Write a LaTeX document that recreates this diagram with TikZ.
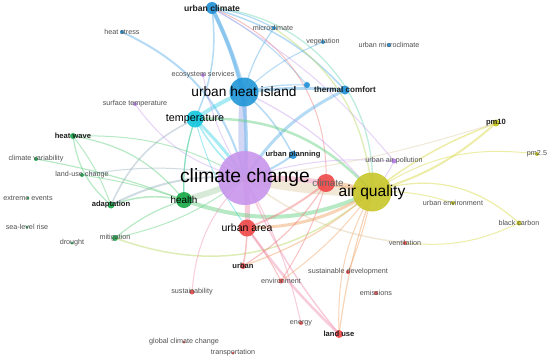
\documentclass[tikz,border=0pt]{standalone}
\usepackage{fontspec}
\setmainfont{Liberation Sans}
\pgfdeclarelayer{bg}
\pgfsetlayers{bg,main}
\definecolor{cB}{HTML}{1E90D6}
\definecolor{cUHI}{HTML}{2196D8}
\definecolor{cP}{HTML}{B47EE6}
\definecolor{cCC}{HTML}{C895EC}
\definecolor{cC}{HTML}{12C6DE}
\definecolor{cG}{HTML}{18A848}
\definecolor{cR}{HTML}{EE4848}
\definecolor{cY}{HTML}{C4C418}
\definecolor{cAQ}{HTML}{C8C62A}
\definecolor{eB}{HTML}{5AAEE8}
\definecolor{eBP}{HTML}{9AA8E8}
\definecolor{eP}{HTML}{C8A0F0}
\definecolor{eC}{HTML}{40D4E8}
\definecolor{eTe}{HTML}{70D8B8}
\definecolor{eG}{HTML}{60D080}
\definecolor{eGP}{HTML}{A8D0A8}
\definecolor{eGray}{HTML}{98B0C0}
\definecolor{eR}{HTML}{F07878}
\definecolor{ePk}{HTML}{F090B0}
\definecolor{eY}{HTML}{D8D840}
\definecolor{eO}{HTML}{F0A060}
\definecolor{eT}{HTML}{E0CCA8}
\definecolor{eYG}{HTML}{B8D860}
\definecolor{labgray}{HTML}{505050}
\tikzset{
  dot/.style={circle, inner sep=0pt, draw=none, fill opacity=0.9},
  lab/.style={font=\fontsize{7.2}{7.2}\selectfont, text=labgray, inner sep=0pt},
  blab/.style={font=\fontsize{7.6}{7.6}\selectfont\bfseries, text=black!88, inner sep=0pt},
  edge/.style={draw opacity=0.45, line cap=round},
}
\begin{document}
\begin{tikzpicture}[x=1pt,y=1pt]
\begin{pgfonlayer}{bg}
\fill[white] (0,0) rectangle (550,-360);
\end{pgfonlayer}
\useasboundingbox (0,0) rectangle (550,-360);
% nodes
\node[dot, fill=cB, minimum size=12pt] (uc) at (212,-8) {};
\node[dot, fill=cB, minimum size=4pt] (mc) at (274,-28) {};
\node[dot, fill=cB, minimum size=4pt] (hs) at (122,-32) {};
\node[dot, fill=cB, minimum size=4pt] (veg) at (323,-42) {};
\node[dot, fill=cB, minimum size=4pt] (umc) at (389,-45) {};
\node[dot, fill=cP, minimum size=4pt] (es) at (203,-75) {};
\node[dot, fill=cUHI, minimum size=29pt] (uhi) at (244,-92) {};
\node[dot, fill=cB, minimum size=6pt] (sn) at (307,-85) {};
\node[dot, fill=cB, minimum size=9pt] (tc) at (345,-90) {};
\node[dot, fill=cP, minimum size=4pt] (st) at (135,-104) {};
\node[dot, fill=cC, minimum size=17pt] (temp) at (195,-119) {};
\node[dot, fill=cG, minimum size=6pt] (hw) at (73,-136) {};
\node[dot, fill=cB, minimum size=8pt] (up) at (293,-155) {};
\node[dot, fill=cP, minimum size=5pt] (uap) at (394,-161) {};
\node[dot, fill=cY, minimum size=7pt] (pmten) at (496,-123) {};
\node[dot, fill=cY, minimum size=4pt] (pmtwo) at (537,-154) {};
\node[dot, fill=cG, minimum size=4pt] (cv) at (36,-159) {};
\node[dot, fill=cG, minimum size=4pt] (luc) at (82,-175) {};
\node[dot, fill=cCC, minimum size=54pt] (cc) at (245,-178) {};
\node[dot, fill=cR, minimum size=18pt] (cl) at (326,-183) {};
\node[dot, fill=cAQ, minimum size=39pt] (aq) at (372,-192) {};
\node[dot, fill=cG, minimum size=3pt] (ee) at (28,-198) {};
\node[dot, fill=cG, minimum size=7pt] (ad) at (111,-205) {};
\node[dot, fill=cG, minimum size=16pt] (he) at (184,-200) {};
\node[dot, fill=cY, minimum size=4pt] (ue) at (453,-203) {};
\node[dot, fill=cG, minimum size=3pt] (slr) at (27,-227) {};
\node[dot, fill=cR, minimum size=17pt] (ua) at (247,-228) {};
\node[dot, fill=cY, minimum size=5pt] (bc) at (519,-223) {};
\node[dot, fill=cG, minimum size=6pt] (mit) at (115,-238) {};
\node[dot, fill=cG, minimum size=3pt] (dr) at (72,-243) {};
\node[dot, fill=cR, minimum size=4pt] (ven) at (405,-243) {};
\node[dot, fill=cR, minimum size=6pt] (ur) at (243,-266) {};
\node[dot, fill=cR, minimum size=4pt] (sd) at (348,-272) {};
\node[dot, fill=cR, minimum size=5pt] (env) at (281,-281) {};
\node[dot, fill=cR, minimum size=4pt] (em) at (376,-293) {};
\node[dot, fill=cR, minimum size=5pt] (sus) at (192,-292) {};
\node[dot, fill=cR, minimum size=4pt] (en) at (301,-323) {};
\node[dot, fill=cR, minimum size=8pt] (lu) at (339,-334) {};
\node[dot, fill=cR, minimum size=3pt] (gcc) at (184,-342) {};
\node[dot, fill=cR, minimum size=3pt] (tr) at (233,-353) {};
% edges
\begin{pgfonlayer}{bg}
% blue / cyan
\draw[edge, eBP, line width=8pt] (uhi.center) to[bend right=5] (cc.center);
\draw[edge, eB, line width=4pt] (uc.center) to[bend left=5] (uhi.center);
\draw[edge, eB, line width=3.5pt] (uc.center) to[bend left=15] (cc.center);
\draw[edge, eB, line width=1.5pt] (uc.center) to[bend left=15] (temp.center);
\draw[edge, eB, line width=1.2pt] (uc.center) to[bend left=10] (mc.center);
\draw[edge, eB, line width=1.5pt] (uc.center) to[bend left=15] (tc.center);
\draw[edge, eB, line width=1pt] (uc.center) to[bend left=10] (sn.center);
\draw[edge, eTe, line width=1.3pt] (uc.center) to[bend left=45] (aq.center);
\draw[edge, eR, line width=1pt] (uc.center) to[bend left=35] (cl.center);
\draw[edge, eP, line width=1pt] (uc.center) to[bend left=10] (uap.center);
\draw[edge, eB, line width=1.2pt] (mc.center) to[bend right=10] (uhi.center);
\draw[edge, eYG, line width=1.3pt] (mc.center) to[bend left=25] (aq.center);
\draw[edge, eB, line width=1pt] (veg.center) to[bend right=10] (uhi.center);
\draw[edge, eB, line width=2pt] (hs.center) to[bend left=25] (cc.center);
\draw[edge, eB, line width=3pt] (uhi.center) to[bend left=5] (tc.center);
\draw[edge, eB, line width=3pt] (cc.center) to[bend left=15] (tc.center);
\draw[edge, eB, line width=1.2pt] (uhi.center) to[bend left=8] (sn.center);
\draw[edge, eC, line width=4pt] (uhi.center) to[bend right=5] (temp.center);
\draw[edge, eB, line width=1.5pt] (uhi.center) to[bend left=10] (up.center);
\draw[edge, eB, line width=2pt] (up.center) to[bend left=10] (cc.center);
\draw[edge, eP, line width=1.2pt] (uhi.center) to[bend left=12] (aq.center);
\draw[edge, eC, line width=3pt] (temp.center) to[bend left=5] (cc.center);
\draw[edge, eC, line width=1.5pt] (temp.center) to[bend right=10] (cc.center);
\draw[edge, eC, line width=1.2pt] (temp.center) to[bend right=10] (he.center);
\draw[edge, eG, line width=2.5pt] (temp.center) to[bend left=25] (aq.center);
\draw[edge, eC, line width=1pt] (temp.center) to[bend right=10] (ua.center);
% centre
\draw[edge, eT, line width=10pt] (cc.center) to[bend right=5] (aq.center);
\draw[edge, ePk, line width=5pt] (cc.center) to[bend left=5] (cl.center);
\draw[edge, eO, line width=5pt] (cl.center) to[bend left=5] (aq.center);
\draw[edge, eGP, line width=6pt] (cc.center) to[bend left=5] (he.center);
\draw[edge, ePk, line width=5pt] (cc.center) to[bend left=5] (ua.center);
\draw[edge, eG, line width=4pt] (he.center) to[bend right=22] (aq.center);
\draw[edge, eO, line width=3pt] (ua.center) to[bend right=15] (aq.center);
\draw[edge, eR, line width=2pt] (cl.center) to[bend left=8] (ua.center);
% green
\draw[edge, eYG, line width=1.5pt] (mit.center) to[bend right=30] (aq.center);
\draw[edge, eG, line width=1.2pt] (mit.center) to[bend left=10] (he.center);
\draw[edge, eG, line width=1pt] (mit.center) to[bend right=12] (cc.center);
\draw[edge, eG, line width=1.5pt] (ad.center) to[bend left=15] (he.center);
\draw[edge, eGray, line width=2pt] (ad.center) to[bend left=15] (cc.center);
\draw[edge, eGray, line width=1.5pt] (ad.center) to[bend left=20] (temp.center);
\draw[edge, eG, line width=1.2pt] (hw.center) to[bend left=20] (he.center);
\draw[edge, eG, line width=1.2pt] (hw.center) to[bend right=20] (ad.center);
\draw[edge, eG, line width=1pt] (hw.center) to[bend left=8] (ad.center);
\draw[edge, eG, line width=1pt] (hw.center) to[bend left=15] (cc.center);
\draw[edge, eG, line width=1.2pt] (cv.center) to[bend left=5] (he.center);
\draw[edge, eG, line width=1pt] (luc.center) to[bend left=5] (he.center);
\draw[edge, eGray, line width=1pt] (luc.center) to[bend left=10] (cc.center);
\draw[edge, eG, line width=1.2pt] (he.center) to[bend left=10] (temp.center);
% purple
\draw[edge, eP, line width=1pt] (st.center) to[bend right=20] (cc.center);
\draw[edge, eP, line width=1pt] (es.center) to[bend right=10] (cc.center);
\draw[edge, eP, line width=1pt] (uap.center) to[bend left=10] (aq.center);
\draw[edge, eP, line width=1pt] (uap.center) to[bend right=10] (cc.center);
\draw[edge, eT, line width=1.5pt] (cc.center) to[bend right=15] (ven.center);
% yellow
\draw[edge, eY, line width=1.5pt] (aq.center) to[bend left=8] (pmten.center);
\draw[edge, eY, line width=2pt] (aq.center) to[bend right=12] (pmten.center);
\draw[edge, eY, line width=1pt] (aq.center) to[bend left=20] (pmtwo.center);
\draw[edge, eY, line width=1pt] (aq.center) to[bend left=10] (ue.center);
\draw[edge, eY, line width=1.2pt] (aq.center) to[bend left=30] (bc.center);
\draw[edge, eY, line width=1pt] (ven.center) to[bend right=15] (bc.center);
\draw[edge, eT, line width=1pt] (pmten.center) to[bend left=5] (cc.center);
% red
\draw[edge, eR, line width=1.5pt] (ua.center) to[bend left=5] (ur.center);
\draw[edge, eR, line width=1pt] (ua.center) to[bend left=5] (env.center);
\draw[edge, ePk, line width=2.5pt] (ua.center) to[bend right=5] (lu.center);
\draw[edge, ePk, line width=1.5pt] (cc.center) to[bend right=8] (lu.center);
\draw[edge, ePk, line width=1pt] (cc.center) to[bend left=8] (en.center);
\draw[edge, ePk, line width=1pt] (cc.center) to[bend right=20] (sus.center);
\draw[edge, eR, line width=1.2pt] (cl.center) to[bend left=12] (ur.center);
\draw[edge, eR, line width=1pt] (cl.center) to[bend left=8] (env.center);
\draw[edge, eO, line width=1.2pt] (aq.center) to[bend left=10] (ur.center);
\draw[edge, eO, line width=1pt] (aq.center) to[bend left=8] (env.center);
\draw[edge, eO, line width=1.2pt] (aq.center) to[bend right=5] (lu.center);
\draw[edge, eO, line width=1pt] (aq.center) to[bend right=15] (lu.center);
\draw[edge, eO, line width=1pt] (aq.center) to[bend left=5] (sd.center);
\end{pgfonlayer}
% labels
\node[blab, font=\fontsize{8.6}{8.6}\selectfont\bfseries] (uc-l) at (uc) {urban climate};
\node[lab] (mc-l) at (273,-28) {microclimate};
\node[lab] (hs-l) at (hs) {heat stress};
\node[lab] (veg-l) at (veg) {vegetation};
\node[lab] (umc-l) at (umc) {urban microclimate};
\node[lab] (es-l) at (es) {ecosystem services};
\node[inner sep=0pt, font=\fontsize{13.7}{13.7}\selectfont] (uhi-l) at (uhi) {urban heat island};
\node[blab, font=\fontsize{8.1}{8.1}\selectfont\bfseries] (tc-l) at (tc) {thermal comfort};
\node[lab] (st-l) at (st) {surface temperature};
\node[inner sep=0pt, font=\fontsize{10.8}{10.8}\selectfont] (temp-l) at (temp) {temperature};
\node[blab] (hw-l) at (hw) {heat wave};
\node[blab] (up-l) at (up) {urban planning};
\node[lab] (uap-l) at (uap) {urban air pollution};
\node[blab] (pmten-l) at (pmten) {pm10};
\node[lab] (pmtwo-l) at (pmtwo) {pm2.5};
\node[lab] (cv-l) at (cv) {climate variability};
\node[lab] (luc-l) at (luc) {land-use change};
\node[inner sep=0pt, font=\fontsize{19.3}{19.3}\selectfont] (cc-l) at (cc) {climate change};
\node[inner sep=0pt, text=black!60, font=\fontsize{9.8}{9.8}\selectfont] (cl-l) at (328,-183) {climate};
\node[inner sep=0pt, font=\fontsize{15.6}{15.6}\selectfont] (aq-l) at (372,-192) {air quality};
\node[lab] (ee-l) at (ee) {extreme events};
\node[blab] (ad-l) at (ad) {adaptation};
\node[inner sep=0pt, font=\fontsize{9.9}{9.9}\selectfont] (he-l) at (he) {health};
\node[lab] (ue-l) at (ue) {urban environment};
\node[lab] (slr-l) at (slr) {sea-level rise};
\node[inner sep=0pt, font=\fontsize{10.5}{10.5}\selectfont] (ua-l) at (ua) {urban area};
\node[lab] (bc-l) at (bc) {black carbon};
\node[lab] (mit-l) at (mit) {mitigation};
\node[lab] (dr-l) at (dr) {drought};
\node[lab] (ven-l) at (ven) {ventilation};
\node[blab] (ur-l) at (ur) {urban};
\node[lab] (sd-l) at (sd) {sustainable development};
\node[lab] (env-l) at (env) {environment};
\node[lab] (em-l) at (em) {emissions};
\node[lab] (sus-l) at (sus) {sustainability};
\node[lab] (en-l) at (en) {energy};
\node[blab] (lu-l) at (lu) {land use};
\node[lab] (gcc-l) at (gcc) {global climate change};
\node[lab] (tr-l) at (tr) {transportation};
\end{tikzpicture}
\end{document}
